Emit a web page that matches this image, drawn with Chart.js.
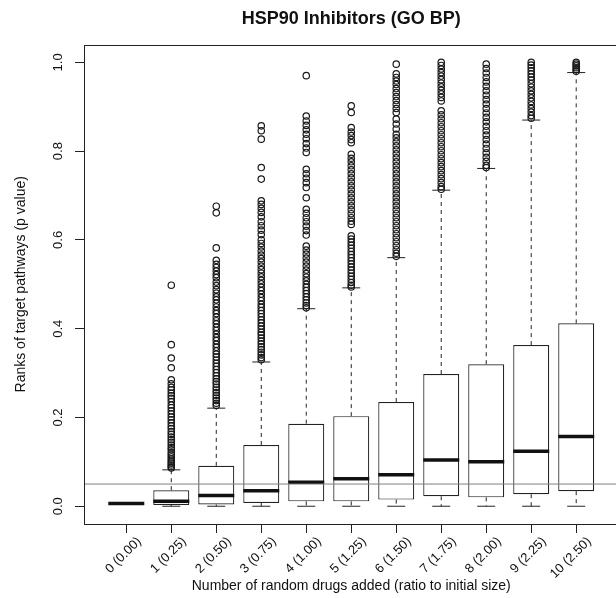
<!DOCTYPE html>
<html>
<head>
<meta charset="utf-8">
<script src="https://cdn.jsdelivr.net/npm/chart.js@4.4.1/dist/chart.umd.min.js"></script>
<style>
  html, body { margin: 0; padding: 0; background: #fff; overflow: hidden; }
  #wrap { width: 640px; height: 598px; }
</style>
</head>
<body>
<div id="wrap"><canvas id="boxChart" width="640" height="598"></canvas></div>
<script>
// categorias do eixo x
const categories = ['0 (0.00)', '1 (0.25)', '2 (0.50)', '3 (0.75)', '4 (1.00)', '5 (1.25)',
  '6 (1.50)', '7 (1.75)', '8 (2.00)', '9 (2.25)', '10 (2.50)'];

// estatisticas do boxplot
const whiskerLow  = [0.006, 0.000, 0.000, 0.000, 0.000, 0.000, 0.000, 0.000, 0.000, 0.000, 0.000];
const q1          = [0.006, 0.003, 0.004, 0.0075, 0.011, 0.011, 0.015, 0.0225, 0.020, 0.027, 0.034];
const median      = [0.006, 0.011, 0.024, 0.035, 0.054, 0.062, 0.071, 0.104, 0.100, 0.124, 0.157];
const q3          = [0.006, 0.036, 0.091, 0.138, 0.186, 0.203, 0.235, 0.298, 0.320, 0.363, 0.412];
const whiskerHigh = [0.006, 0.082, 0.221, 0.325, 0.445, 0.492, 0.560, 0.712, 0.761, 0.870, 0.977];

// outliers por categoria
const outliers = [
  [],
  [0.498, 0.364, 0.334, 0.312, 0.285, 0.276, 0.268, 0.262, 0.255, 0.249, 0.243, 0.236, 0.228,
   0.222, 0.215, 0.208, 0.201, 0.195, 0.188, 0.181, 0.175, 0.168, 0.162, 0.156, 0.150, 0.144,
   0.138, 0.132, 0.127, 0.121, 0.116, 0.111, 0.106, 0.101, 0.097, 0.093, 0.089, 0.086],
  [0.676, 0.661, 0.582, 0.554, 0.545, 0.538, 0.530, 0.522, 0.515, 0.505, 0.497, 0.488, 0.480,
   0.472, 0.465, 0.457, 0.449, 0.441, 0.434, 0.426, 0.418, 0.411, 0.403, 0.396, 0.388, 0.380,
   0.373, 0.365, 0.358, 0.350, 0.343, 0.336, 0.329, 0.322, 0.315, 0.308, 0.301, 0.294, 0.287,
   0.281, 0.275, 0.268, 0.262, 0.256, 0.250, 0.244, 0.238, 0.232, 0.227],
  [0.857, 0.846, 0.827, 0.763, 0.737, 0.688, 0.680, 0.671, 0.662, 0.652, 0.641, 0.632, 0.622,
   0.612, 0.600, 0.592, 0.584, 0.575, 0.566, 0.558, 0.550, 0.541, 0.533, 0.525, 0.517, 0.509,
   0.501, 0.493, 0.486, 0.478, 0.470, 0.463, 0.455, 0.448, 0.441, 0.434, 0.427, 0.420, 0.413,
   0.406, 0.399, 0.392, 0.386, 0.379, 0.372, 0.366, 0.359, 0.353, 0.347, 0.341, 0.335, 0.330],
  [0.970, 0.879, 0.868, 0.858, 0.848, 0.838, 0.828, 0.817, 0.807, 0.797, 0.759, 0.749, 0.739,
   0.729, 0.718, 0.695, 0.669, 0.660, 0.650, 0.641, 0.631, 0.621, 0.611, 0.586, 0.577, 0.568,
   0.559, 0.550, 0.541, 0.532, 0.524, 0.516, 0.508, 0.500, 0.493, 0.486, 0.479, 0.472, 0.465,
   0.458, 0.452, 0.447],
  [0.902, 0.887, 0.853, 0.843, 0.835, 0.826, 0.819, 0.793, 0.784, 0.776, 0.767, 0.758, 0.749,
   0.740, 0.731, 0.722, 0.713, 0.704, 0.695, 0.686, 0.677, 0.668, 0.659, 0.650, 0.642, 0.635,
   0.609, 0.602, 0.595, 0.588, 0.581, 0.574, 0.567, 0.560, 0.553, 0.546, 0.539, 0.532, 0.525,
   0.518, 0.511, 0.504, 0.498, 0.494],
  [0.996, 0.974, 0.966, 0.958, 0.950, 0.941, 0.932, 0.923, 0.914, 0.905, 0.896, 0.887, 0.872,
   0.861, 0.850, 0.838, 0.830, 0.821, 0.812, 0.803, 0.794, 0.785, 0.776, 0.767, 0.758, 0.749,
   0.740, 0.731, 0.722, 0.713, 0.704, 0.695, 0.686, 0.677, 0.668, 0.659, 0.650, 0.641, 0.632,
   0.623, 0.614, 0.605, 0.596, 0.587, 0.578, 0.570, 0.563],
  [1.000, 0.993, 0.985, 0.977, 0.969, 0.961, 0.953, 0.945, 0.937, 0.929, 0.921, 0.913, 0.891,
   0.882, 0.873, 0.864, 0.855, 0.846, 0.837, 0.828, 0.819, 0.810, 0.801, 0.792, 0.783, 0.774,
   0.765, 0.756, 0.747, 0.738, 0.729, 0.720, 0.714],
  [0.996, 0.986, 0.976, 0.966, 0.956, 0.946, 0.936, 0.926, 0.916, 0.906, 0.896, 0.886, 0.876,
   0.866, 0.856, 0.846, 0.836, 0.826, 0.816, 0.806, 0.796, 0.786, 0.777, 0.768, 0.763],
  [1.000, 0.994, 0.988, 0.981, 0.974, 0.967, 0.960, 0.952, 0.944, 0.936, 0.928, 0.920, 0.912,
   0.904, 0.896, 0.888, 0.880, 0.874],
  [1.000, 0.996, 0.992, 0.988, 0.984, 0.980]
];

// eixos
const yTicks = [0, 0.2, 0.4, 0.6, 0.8, 1.0];
const yRange = [-0.04, 1.04];
const xRange = [0.06, 11.94];
const cutoff = 0.05;

const FONT = '"Liberation Sans", Arial, Helvetica, sans-serif';
Chart.defaults.font.family = FONT;
Chart.defaults.color = '#111';

const pos = categories.map((c, i) => i + 1);

// monta os datasets
const boxData = pos.map((x, i) => ({ x: x, y: [q1[i], q3[i]] }));
const medianData = pos.map((x, i) => ({ x: x, y: median[i] }));

const whiskerData = [];
const capData = [];
pos.forEach((x, i) => {
  whiskerData.push({ x: x, y: q3[i] }, { x: x, y: whiskerHigh[i] }, { x: x, y: null });
  whiskerData.push({ x: x, y: q1[i] }, { x: x, y: whiskerLow[i] }, { x: x, y: null });
  capData.push({ x: x, y: whiskerLow[i] }, { x: x, y: whiskerHigh[i] });
});

const outlierData = [];
outliers.forEach((vals, i) => {
  vals.forEach(v => outlierData.push({ x: pos[i], y: v }));
});

// moldura do grafico (box() do R)
const framePlugin = {
  id: 'frame',
  afterDatasetsDraw(chart) {
    const { ctx, chartArea: a } = chart;
    ctx.save();
    ctx.strokeStyle = '#222';
    ctx.lineWidth = 1;
    ctx.strokeRect(Math.round(a.left) + 0.5, Math.round(a.top) + 0.5,
      Math.round(a.right - a.left), Math.round(a.bottom - a.top));
    ctx.restore();
  }
};

const ctx = document.getElementById('boxChart').getContext('2d');
new Chart(ctx, {
  type: 'bar',
  data: {
    datasets: [
      {
        type: 'line',
        data: [{ x: xRange[0], y: cutoff }, { x: xRange[1], y: cutoff }],
        borderColor: '#808080',
        borderWidth: 1,
        pointRadius: 0,
        order: 1
      },
      {
        type: 'scatter',
        data: outlierData,
        pointStyle: 'circle',
        pointRadius: 3.2,
        borderWidth: 1.2,
        borderColor: '#1a1a1a',
        backgroundColor: 'rgba(0,0,0,0)',
        order: 2
      },
      {
        type: 'scatter',
        data: medianData,
        pointStyle: 'line',
        pointRadius: 18,
        borderWidth: 3.5,
        borderColor: '#111',
        order: 3
      },
      {
        type: 'scatter',
        data: capData,
        pointStyle: 'line',
        pointRadius: 9,
        borderWidth: 1,
        borderColor: '#222',
        order: 4
      },
      {
        type: 'bar',
        data: boxData,
        backgroundColor: '#fff',
        borderColor: '#222',
        borderWidth: 1.2,
        borderSkipped: false,
        categoryPercentage: 1,
        barPercentage: 0.8,
        order: 5
      },
      {
        type: 'line',
        data: whiskerData,
        borderColor: '#222',
        borderWidth: 1,
        borderDash: [4, 4],
        pointRadius: 0,
        spanGaps: false,
        order: 6
      }
    ]
  },
  options: {
    responsive: false,
    animation: false,
    events: [],
    layout: { padding: { left: 0, right: 21, top: 0, bottom: 0 } },
    plugins: {
      legend: { display: false },
      tooltip: { enabled: false },
      title: {
        display: true,
        fullSize: false,
        text: 'HSP90 Inhibitors (GO BP)',
        color: '#111',
        font: { size: 18, weight: 'bold' },
        padding: { top: 8, bottom: 15 }
      }
    },
    scales: {
      x: {
        type: 'linear',
        offset: false,
        min: xRange[0],
        max: xRange[1],
        afterBuildTicks: (s) => { s.ticks = pos.map(v => ({ value: v })); },
        afterFit: (s) => { s.height = 74; },
        ticks: {
          callback: (v, i) => categories[i],
          autoSkip: false,
          minRotation: 45,
          maxRotation: 45,
          labelOffset: 13,
          padding: 1,
          font: { size: 13 },
          color: '#111'
        },
        grid: { offset: false, drawOnChartArea: false, drawTicks: true, tickLength: 9, color: '#222' },
        border: { display: false },
        title: {
          display: true,
          text: 'Number of random drugs added (ratio to initial size)',
          font: { size: 14 },
          color: '#111',
          padding: { top: 0, bottom: 3 }
        }
      },
      y: {
        type: 'linear',
        min: yRange[0],
        max: yRange[1],
        afterBuildTicks: (s) => { s.ticks = yTicks.map(v => ({ value: v })); },
        afterFit: (s) => { s.width = 84; },
        ticks: {
          callback: (v) => v.toFixed(1),
          minRotation: 90,
          maxRotation: 90,
          crossAlign: 'center',
          padding: 8,
          font: { size: 13 },
          color: '#111'
        },
        grid: { drawOnChartArea: false, drawTicks: true, tickLength: 9, color: '#222' },
        border: { display: false },
        title: {
          display: true,
          text: 'Ranks of target pathways (p value)',
          font: { size: 14 },
          color: '#111',
          padding: { top: 13, bottom: 0 }
        }
      }
    }
  },
  plugins: [framePlugin]
});
</script>
</body>
</html>
